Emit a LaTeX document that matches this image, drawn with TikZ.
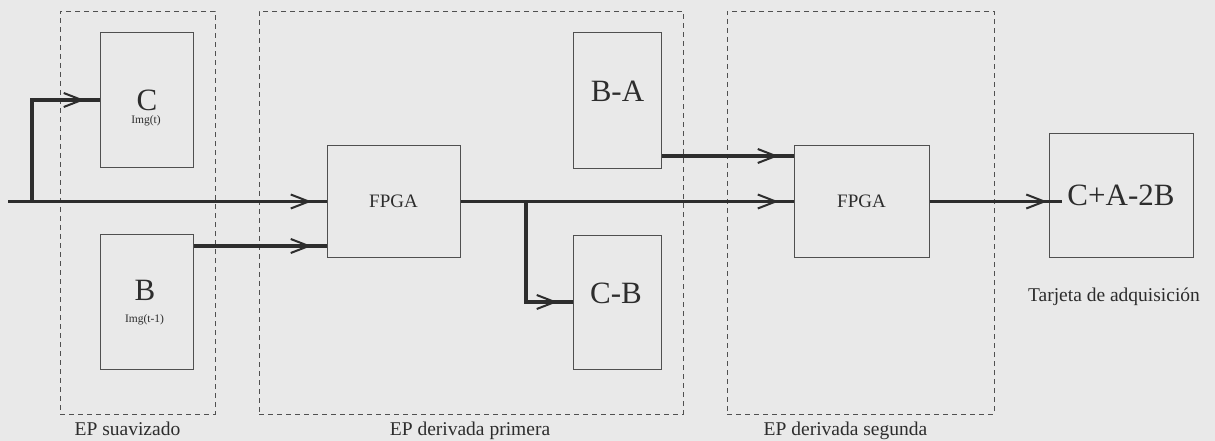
\documentclass[tikz,border=0pt]{standalone}
\usepackage{fontspec}
\setmainfont{Liberation Serif}
\usepackage{tikz}
\definecolor{bg}{RGB}{233, 233, 233}
\definecolor{ln}{RGB}{45, 45, 45}
\definecolor{bd}{RGB}{80, 80, 80}
\usetikzlibrary{positioning}
\usetikzlibrary{arrows.meta}
\usetikzlibrary{decorations.markings}
\tikzset{
  blk/.style={rectangle, draw=bd, line width=1pt, inner sep=0pt},
  epzone/.style={rectangle, draw=bd, line width=0.9pt, dash pattern=on 5pt off 4pt, inner sep=0pt},
  bigtxt/.style={inner sep=0pt, text=ln, font=\fontsize{31}{36}\selectfont},
  smalltxt/.style={inner sep=0pt, text=ln, font=\fontsize{11.5}{13}\selectfont},
  captxt/.style={inner sep=0pt, text=ln, font=\fontsize{19.5}{23}\selectfont},
  wire/.style={draw=ln, line width=3.5pt},
  feed/.style={wire, decoration={markings, mark=at position -15pt with {\arrow[ln]{Straight Barb[length=18pt, width=14pt, line width=2pt]}}}, postaction={decorate}},
}

\begin{document}
\begin{tikzpicture}
\fill[bg] (0pt, 0pt) rectangle (1215pt, -441pt);
\useasboundingbox (0pt, 0pt) rectangle (1215pt, -441pt);
% zonas
\node (z1) [epzone, minimum width=155pt, minimum height=403pt] at (137.5pt, -212.5pt) {};
\node (z2) [epzone, minimum width=424pt, minimum height=403pt] at (471pt, -212.5pt) {};
\node (z3) [epzone, minimum width=267pt, minimum height=403pt] at (860.5pt, -212.5pt) {};
\node (l1) [captxt, anchor=base] at (127.5pt, -435pt) {EP suavizado};
\node (l2) [captxt, anchor=base] at (470pt, -435pt) {EP derivada primera};
\node (l3) [captxt, anchor=base] at (845.5pt, -435pt) {EP derivada segunda};
% bloques
\node (c) [blk, minimum width=93pt, minimum height=134pt] at (146.5pt, -100pt) {};
\node (b) [blk, minimum width=93pt, minimum height=135pt] at (146.5pt, -301.5pt) {};
\node (ctxt) [bigtxt] at (147pt, -100pt) {C};
\node (cimg) [smalltxt, anchor=base] at (146pt, -124pt) {Img(t)};
\node (btxt) [bigtxt] at (145pt, -290pt) {B};
\node (bimg) [smalltxt, anchor=base] at (144.5pt, -322pt) {Img(t-1)};
\node (fpga1) [blk, minimum width=133pt, minimum height=111pt, text=ln, font=\fontsize{19}{22}\selectfont] at (393.5pt, -201.5pt) {FPGA};
\node (ba) [blk, minimum width=88pt, minimum height=135pt] at (617pt, -100.5pt) {};
\node (cb) [blk, minimum width=88pt, minimum height=134pt] at (617pt, -302pt) {};
\node (batxt) [bigtxt] at (617.5pt, -91pt) {B-A};
\node (cbtxt) [bigtxt] at (616pt, -293pt) {C-B};
\node (fpga2) [blk, minimum width=135pt, minimum height=111pt, text=ln, font=\fontsize{19}{22}\selectfont] at (861.5pt, -201.5pt) {FPGA};
\node (res) [blk, minimum width=144pt, minimum height=123pt, text=ln, font=\fontsize{31}{36}\selectfont] at (1121pt, -195.5pt) {C+A-2B};
\node (l4) [captxt, anchor=base] at (1114pt, -301.5pt) {Tarjeta de adquisición};
% conexiones
\coordinate (in) at (8pt, -201.5pt);
\coordinate (split1) at (32pt, -201.5pt);
\coordinate (split2) at (526pt, -201.5pt);
\coordinate (resin) at (1062pt, -201.5pt);
\draw [feed] (in) to (fpga1.west);
\draw [feed] (split1) |- (c.west);
\draw [feed] ([yshift=55.5pt]b.east) to ([yshift=55.5pt]b.east -| fpga1.west);
\draw [feed] (fpga1.east) to (fpga2.west);
\draw [feed] (split2) |- (cb.west);
\draw [feed] ([yshift=-55.5pt]ba.east) to ([yshift=-55.5pt]ba.east -| fpga2.west);
\draw [feed] (fpga2.east) to (resin);
\end{tikzpicture}
\end{document}
